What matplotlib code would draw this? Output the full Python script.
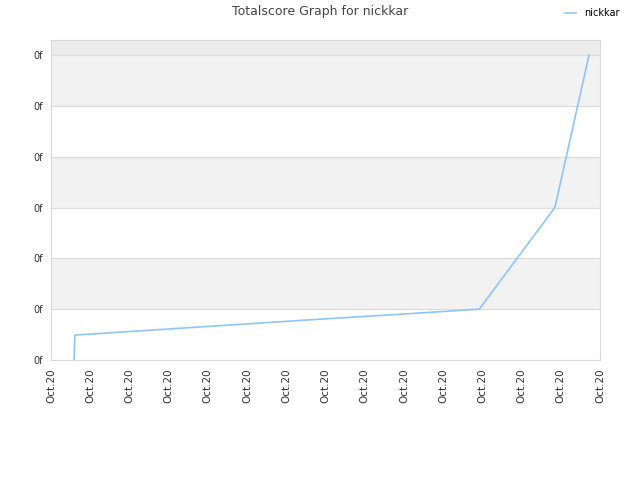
import matplotlib
matplotlib.use("Agg")
import matplotlib.pyplot as plt

# data (x in tick units, y in grid units)
xs = [0.59, 0.60, 0.61, 2.8, 4.8, 6.8, 8.9, 10.92, 12.85, 13.72]
ys = [0.0, 0.25, 0.49, 0.60, 0.70, 0.80, 0.90, 1.0, 3.0, 6.0]
ytick_labels = ["0f"] * 7
xtick_labels = ["Oct.20"] * 15
series_name = "nickkar"
title = "Totalscore Graph for nickkar"

fig = plt.figure(figsize=(6.4, 4.8), dpi=100)
ax = fig.add_axes([51/640, 120/480, 549/640, 320/480])
ymax = (360 - 40) / 50.83
ax.set_xlim(0, 14)
ax.set_ylim(0, ymax)

# alternating bands
for i in range(6):
    if i % 2 == 1:
        ax.axhspan(i, i + 1, color="#f2f2f2", zorder=0, lw=0)
ax.axhspan(6, ymax, color="#ececec", zorder=0, lw=0)
for i in range(1, 7):
    ax.axhline(i, color="#dcdcdc", lw=0.8, zorder=1)

ax.plot(xs, ys, color="#90c4f5", lw=1.2, label=series_name, zorder=3)

ax.set_yticks(range(7))
ax.set_yticklabels(ytick_labels, fontsize=7, color="#333333")
ax.set_xticks(range(15))
ax.set_xticklabels(xtick_labels, rotation=90, fontsize=7.5, color="#333333")
ax.tick_params(length=0, pad=6)
for s in ax.spines.values():
    s.set_color("#d8d8d8")
    s.set_linewidth(0.8)

fig.text(0.5, 1 - 12/480, title, ha="center", va="center", fontsize=9, color="#444444")
leg = fig.legend(loc="center left", bbox_to_anchor=(556/640, 1 - 13/480), frameon=False,
                 fontsize=7, handlelength=1.2, handletextpad=0.8)

fig.savefig("out.png", dpi=100)
